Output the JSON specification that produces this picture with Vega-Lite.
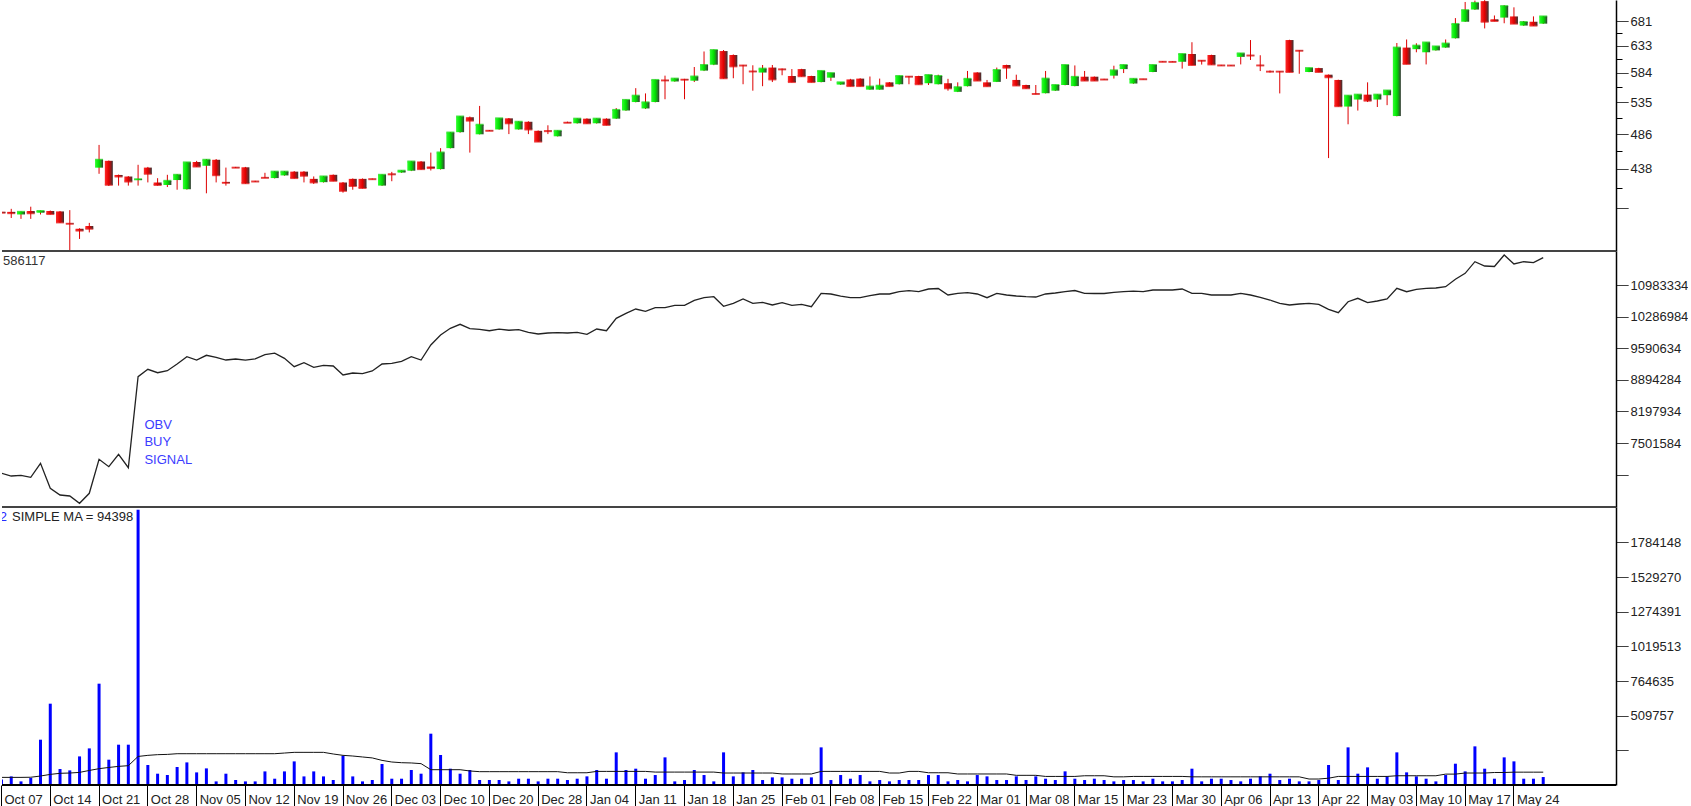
{
"$schema": "https://vega.github.io/schema/vega-lite/v6.json",
"padding": 0,
"background": "white",
"spacing": 0,
"bounds": "flush",
"config": {"view": {"stroke": null}, "font": "Liberation Sans", "text": {"font": "Liberation Sans"}},
"datasets": {"k": [
{"d":"2021-10-07","o":385,"h":388,"l":381,"c":384,"v":40000,"b":6833900,"m":56000},
{"d":"2021-10-08","o":385,"h":388.5,"l":378,"c":383.5,"v":63200,"b":6774400,"m":56000},
{"d":"2021-10-11","o":382,"h":385.5,"l":377,"c":385,"v":26500,"b":6789800,"m":56000},
{"d":"2021-10-12","o":386,"h":391,"l":377,"c":383.5,"v":51500,"b":6745800,"m":57000},
{"d":"2021-10-13","o":384,"h":386.5,"l":382,"c":386,"v":333100,"b":7054300,"m":66000},
{"d":"2021-10-14","o":386,"h":386.5,"l":382,"c":382.5,"v":597900,"b":6503400,"m":78000},
{"d":"2021-10-15","o":385.5,"h":386,"l":372.5,"c":373,"v":117700,"b":6355700,"m":86000},
{"d":"2021-10-18","o":372,"h":387,"l":340,"c":371.5,"v":107400,"b":6333700,"m":88000},
{"d":"2021-10-19","o":366,"h":366.5,"l":355,"c":364,"v":210300,"b":6172800,"m":92700},
{"d":"2021-10-20","o":369,"h":372.5,"l":362,"c":366,"v":269200,"b":6393200,"m":107000},
{"d":"2021-10-21","o":439.5,"h":470.5,"l":431.5,"c":450,"v":745000,"b":7142400,"m":120000},
{"d":"2021-10-22","o":448.6,"h":449,"l":416,"c":417.5,"v":186100,"b":6979400,"m":129000},
{"d":"2021-10-25","o":430,"h":430.5,"l":416.5,"c":428,"v":296400,"b":7252600,"m":137000},
{"d":"2021-10-26","o":428,"h":428.5,"l":416.5,"c":421.6,"v":296400,"b":6957300,"m":142000},
{"d":"2021-10-27","o":423.5,"h":443.3,"l":416.5,"c":424.5,"v":2024600,"b":8962600,"m":210000},
{"d":"2021-10-28","o":439.6,"h":440.5,"l":420.5,"c":431.5,"v":147100,"b":9125700,"m":218000},
{"d":"2021-10-29","o":420.4,"h":425.9,"l":416.5,"c":417.3,"v":83100,"b":9050700,"m":223000},
{"d":"2021-11-02","o":417.3,"h":430.2,"l":414.7,"c":422.5,"v":73500,"b":9094800,"m":225000},
{"d":"2021-11-03","o":423.5,"h":431,"l":411.4,"c":430.2,"v":132400,"b":9242500,"m":230000},
{"d":"2021-11-04","o":412,"h":447,"l":411.5,"c":446.5,"v":166200,"b":9403300,"m":230000},
{"d":"2021-11-05","o":447,"h":448.5,"l":440.5,"c":441,"v":92700,"b":9330600,"m":230000},
{"d":"2021-11-08","o":442,"h":451,"l":407,"c":450,"v":122100,"b":9434200,"m":230000},
{"d":"2021-11-09","o":450,"h":451,"l":420.5,"c":429.7,"v":26500,"b":9390100,"m":230000},
{"d":"2021-11-10","o":421,"h":439.6,"l":416.5,"c":420,"v":83100,"b":9330600,"m":230000},
{"d":"2021-11-11","o":440,"h":440.5,"l":439,"c":439.5,"v":36800,"b":9352600,"m":230000},
{"d":"2021-11-12","o":440,"h":440.5,"l":419,"c":419.5,"v":26500,"b":9330000,"m":230000},
{"d":"2021-11-15","o":422,"h":422.5,"l":421,"c":421.6,"v":26500,"b":9356000,"m":230000},
{"d":"2021-11-16","o":426.8,"h":432.8,"l":426,"c":426.3,"v":100000,"b":9447400,"m":230000},
{"d":"2021-11-17","o":426,"h":435,"l":425.5,"c":434.3,"v":46300,"b":9480000,"m":230000},
{"d":"2021-11-18","o":429.4,"h":435,"l":429,"c":434.3,"v":100000,"b":9368100,"m":235000},
{"d":"2021-11-19","o":434.3,"h":435,"l":425.5,"c":426,"v":173600,"b":9183000,"m":240000},
{"d":"2021-11-22","o":434.3,"h":435,"l":420.5,"c":429,"v":63200,"b":9271100,"m":240000},
{"d":"2021-11-23","o":425,"h":428.1,"l":418.6,"c":420.5,"v":100000,"b":9169700,"m":240000},
{"d":"2021-11-24","o":420.8,"h":428.6,"l":420.3,"c":428.1,"v":63200,"b":9213800,"m":240000},
{"d":"2021-11-25","o":430.2,"h":430.6,"l":422,"c":422.5,"v":36800,"b":9198400,"m":228000},
{"d":"2021-11-26","o":420.4,"h":421,"l":407.8,"c":410,"v":215500,"b":9000100,"m":218000},
{"d":"2021-11-29","o":425,"h":425.5,"l":411.4,"c":416,"v":63200,"b":9044100,"m":213000},
{"d":"2021-11-30","o":425,"h":425.5,"l":413,"c":413.5,"v":26500,"b":9030000,"m":206000},
{"d":"2021-12-01","o":425,"h":425.4,"l":424.3,"c":424.6,"v":36800,"b":9088200,"m":199000},
{"d":"2021-12-02","o":416.5,"h":430.6,"l":416,"c":430.2,"v":154400,"b":9242500,"m":181000},
{"d":"2021-12-03","o":431.5,"h":434,"l":422,"c":430.8,"v":46300,"b":9257900,"m":169000},
{"d":"2021-12-06","o":433.1,"h":436,"l":432.7,"c":435.5,"v":46300,"b":9302000,"m":164000},
{"d":"2021-12-07","o":435.5,"h":448.2,"l":435,"c":447.7,"v":110300,"b":9403300,"m":162000},
{"d":"2021-12-08","o":447.7,"h":448.2,"l":437,"c":437.6,"v":83100,"b":9330600,"m":157000},
{"d":"2021-12-09","o":441,"h":459.8,"l":435.8,"c":439,"v":377300,"b":9661100,"m":112500},
{"d":"2021-12-10","o":437.6,"h":466,"l":437,"c":460,"v":220600,"b":9881500,"m":112500},
{"d":"2021-12-13","o":466,"h":489,"l":465.5,"c":488.3,"v":119900,"b":10029100,"m":112500},
{"d":"2021-12-14","o":488.8,"h":513,"l":488,"c":512.3,"v":83100,"b":10117300,"m":112500},
{"d":"2021-12-15","o":511.2,"h":512.3,"l":459.8,"c":506,"v":110300,"b":10020300,"m":103000},
{"d":"2021-12-17","o":485.7,"h":528.8,"l":485.5,"c":499.8,"v":36800,"b":10007100,"m":98000},
{"d":"2021-12-20","o":491.3,"h":492,"l":490.5,"c":490.8,"v":36800,"b":9975000,"m":98000},
{"d":"2021-12-21","o":492.8,"h":510,"l":492.5,"c":509.5,"v":36800,"b":10012000,"m":98000},
{"d":"2021-12-22","o":509.5,"h":510,"l":486,"c":502,"v":26500,"b":9986000,"m":98000},
{"d":"2021-12-23","o":492.8,"h":505,"l":492.5,"c":504.3,"v":46300,"b":10000000,"m":98000},
{"d":"2021-12-24","o":504.3,"h":505,"l":486,"c":492.8,"v":46300,"b":9941000,"m":98000},
{"d":"2021-12-28","o":490.8,"h":491.3,"l":474.8,"c":475.2,"v":26500,"b":9903500,"m":98000},
{"d":"2021-12-29","o":491,"h":499,"l":486,"c":490.3,"v":46300,"b":9925600,"m":98000},
{"d":"2021-12-30","o":482.8,"h":491.3,"l":482.5,"c":490.8,"v":46300,"b":9932200,"m":98000},
{"d":"2021-12-31","o":503.5,"h":504.5,"l":502.5,"c":502.8,"v":36500,"b":9925600,"m":90000},
{"d":"2022-01-03","o":502,"h":509.5,"l":501.5,"c":509,"v":46300,"b":9941000,"m":90000},
{"d":"2022-01-04","o":509,"h":509.5,"l":501.5,"c":502,"v":63500,"b":9896900,"m":90000},
{"d":"2022-01-05","o":502,"h":509.5,"l":501.5,"c":509,"v":110100,"b":10013700,"m":100000},
{"d":"2022-01-06","o":509,"h":509.5,"l":499,"c":499.5,"v":46300,"b":9976300,"m":100000},
{"d":"2022-01-07","o":509,"h":525.4,"l":508.5,"c":522.5,"v":240000,"b":10249500,"m":100000},
{"d":"2022-01-10","o":521.6,"h":539,"l":521,"c":538.4,"v":110100,"b":10359700,"m":100000},
{"d":"2022-01-11","o":535,"h":557.7,"l":534.5,"c":545.3,"v":119900,"b":10454400,"m":100000},
{"d":"2022-01-12","o":524.8,"h":549,"l":524,"c":534.5,"v":46300,"b":10403800,"m":100000},
{"d":"2022-01-13","o":535,"h":572,"l":534.5,"c":571.6,"v":73300,"b":10483100,"m":95000},
{"d":"2022-01-14","o":571.5,"h":579,"l":539.5,"c":570.8,"v":203200,"b":10483100,"m":95000},
{"d":"2022-01-17","o":569,"h":574.5,"l":568.5,"c":573.9,"v":26700,"b":10536000,"m":95000},
{"d":"2022-01-18","o":572.9,"h":573.5,"l":539.5,"c":572,"v":36500,"b":10536000,"m":95000},
{"d":"2022-01-19","o":570.3,"h":594.2,"l":568,"c":577.5,"v":110100,"b":10646200,"m":95000},
{"d":"2022-01-20","o":587.8,"h":622.5,"l":587,"c":597.8,"v":73300,"b":10703400,"m":95000},
{"d":"2022-01-21","o":598.3,"h":626,"l":597.5,"c":625.2,"v":26700,"b":10725500,"m":95000},
{"d":"2022-01-24","o":623.3,"h":625.2,"l":574,"c":574.5,"v":240000,"b":10513900,"m":88000},
{"d":"2022-01-25","o":616,"h":617,"l":574.5,"c":595.3,"v":63500,"b":10580000,"m":88000},
{"d":"2022-01-26","o":597.3,"h":598,"l":564.3,"c":596.8,"v":92900,"b":10674800,"m":88000},
{"d":"2022-01-27","o":587,"h":597.3,"l":553.5,"c":586.3,"v":110100,"b":10580000,"m":88000},
{"d":"2022-01-28","o":584.4,"h":597.8,"l":561,"c":591.3,"v":36500,"b":10602100,"m":88000},
{"d":"2022-01-31","o":593.2,"h":597.8,"l":568,"c":572.5,"v":56100,"b":10542600,"m":88000},
{"d":"2022-02-01","o":590.8,"h":591.5,"l":579.7,"c":590,"v":56100,"b":10593300,"m":81000},
{"d":"2022-02-02","o":578.4,"h":590.5,"l":567.5,"c":568,"v":46300,"b":10536000,"m":81000},
{"d":"2022-02-03","o":590.5,"h":591,"l":577.5,"c":578,"v":46300,"b":10558000,"m":81000},
{"d":"2022-02-04","o":578.4,"h":578.8,"l":567.5,"c":568,"v":56100,"b":10505100,"m":81000},
{"d":"2022-02-07","o":568,"h":587.7,"l":567.5,"c":587.2,"v":276700,"b":10800400,"m":100000},
{"d":"2022-02-08","o":575.5,"h":584,"l":570,"c":583.5,"v":36500,"b":10785000,"m":100000},
{"d":"2022-02-09","o":563.7,"h":568,"l":563.3,"c":567.5,"v":73300,"b":10740000,"m":100000},
{"d":"2022-02-10","o":572.5,"h":573.5,"l":560.8,"c":561.2,"v":46300,"b":10703400,"m":100000},
{"d":"2022-02-11","o":573.9,"h":574.5,"l":560.8,"c":561.2,"v":73300,"b":10703400,"m":100000},
{"d":"2022-02-14","o":555.2,"h":577.5,"l":555,"c":560.4,"v":26700,"b":10747500,"m":100000},
{"d":"2022-02-15","o":555.2,"h":573.9,"l":555,"c":561.8,"v":36500,"b":10785000,"m":100000},
{"d":"2022-02-16","o":567.5,"h":568,"l":560.8,"c":561.2,"v":26700,"b":10785000,"m":88000},
{"d":"2022-02-17","o":564.3,"h":579,"l":563.8,"c":578.4,"v":36500,"b":10835700,"m":88000},
{"d":"2022-02-18","o":577.8,"h":578.3,"l":564.3,"c":577.2,"v":36500,"b":10857700,"m":100000},
{"d":"2022-02-21","o":578.4,"h":578.8,"l":564,"c":564.3,"v":36500,"b":10835700,"m":100000},
{"d":"2022-02-22","o":566,"h":580.5,"l":563,"c":580.1,"v":73300,"b":10895200,"m":90000},
{"d":"2022-02-23","o":564.3,"h":580.7,"l":564,"c":578.4,"v":73300,"b":10906300,"m":90000},
{"d":"2022-02-24","o":566,"h":573.5,"l":553.5,"c":557.5,"v":26700,"b":10762900,"m":90000},
{"d":"2022-02-25","o":551.6,"h":567.5,"l":551.2,"c":559.3,"v":36500,"b":10800400,"m":81000},
{"d":"2022-02-28","o":561,"h":587.2,"l":560.5,"c":573.5,"v":26700,"b":10813600,"m":81000},
{"d":"2022-03-01","o":584.6,"h":585,"l":570,"c":570.5,"v":73300,"b":10785000,"m":81000},
{"d":"2022-03-02","o":567.5,"h":571.6,"l":560.5,"c":561,"v":63500,"b":10703400,"m":81000},
{"d":"2022-03-03","o":568.3,"h":593.2,"l":568,"c":588.9,"v":36500,"b":10800400,"m":81000},
{"d":"2022-03-04","o":597.8,"h":598.3,"l":573.5,"c":593,"v":36500,"b":10762900,"m":81000},
{"d":"2022-03-07","o":571.6,"h":580.7,"l":561.8,"c":562.2,"v":63500,"b":10740900,"m":71000},
{"d":"2022-03-08","o":563,"h":563.5,"l":557,"c":557.5,"v":36500,"b":10725500,"m":71000},
{"d":"2022-03-09","o":548.5,"h":563,"l":547.5,"c":548,"v":63500,"b":10718900,"m":71000},
{"d":"2022-03-10","o":549.3,"h":587.2,"l":549,"c":573.9,"v":46300,"b":10785000,"m":63000},
{"d":"2022-03-11","o":553.5,"h":563.5,"l":553,"c":563,"v":36500,"b":10807000,"m":63000},
{"d":"2022-03-14","o":563,"h":598.3,"l":562.5,"c":597.8,"v":100300,"b":10835700,"m":63000},
{"d":"2022-03-15","o":561.2,"h":597,"l":560.8,"c":576.9,"v":46300,"b":10862100,"m":63000},
{"d":"2022-03-16","o":577.2,"h":587.2,"l":570,"c":570.5,"v":36500,"b":10800400,"m":68000},
{"d":"2022-03-17","o":577.2,"h":577.5,"l":570,"c":570.5,"v":46300,"b":10796000,"m":68000},
{"d":"2022-03-18","o":573,"h":573.5,"l":572,"c":572.3,"v":36500,"b":10796000,"m":68000},
{"d":"2022-03-22","o":579,"h":596.5,"l":574,"c":588.3,"v":26700,"b":10822400,"m":60000},
{"d":"2022-03-23","o":590.5,"h":598.3,"l":583.5,"c":597.8,"v":36500,"b":10835700,"m":60000},
{"d":"2022-03-24","o":565.5,"h":574,"l":565,"c":573.5,"v":36500,"b":10846700,"m":63000},
{"d":"2022-03-25","o":573.3,"h":573.5,"l":572.5,"c":572.8,"v":26700,"b":10835700,"m":63000},
{"d":"2022-03-28","o":585.4,"h":598.3,"l":585,"c":597.8,"v":46300,"b":10873100,"m":63000},
{"d":"2022-03-29","o":604,"h":604.5,"l":603,"c":603.5,"v":26700,"b":10873100,"m":63000},
{"d":"2022-03-30","o":603.8,"h":604.3,"l":603,"c":603.3,"v":26700,"b":10873100,"m":63000},
{"d":"2022-03-31","o":603.6,"h":618.3,"l":591.3,"c":617.8,"v":36500,"b":10895200,"m":63000},
{"d":"2022-04-01","o":617.8,"h":640,"l":597.3,"c":597.8,"v":119900,"b":10800400,"m":60000},
{"d":"2022-04-04","o":606,"h":606.5,"l":598.5,"c":605.4,"v":26700,"b":10800400,"m":60000},
{"d":"2022-04-05","o":616,"h":616.5,"l":598.3,"c":598.8,"v":46300,"b":10762900,"m":60000},
{"d":"2022-04-06","o":597.5,"h":598,"l":596.5,"c":597,"v":46300,"b":10762900,"m":60000},
{"d":"2022-04-07","o":597.3,"h":597.8,"l":596.3,"c":596.8,"v":36500,"b":10762900,"m":60000},
{"d":"2022-04-08","o":612.5,"h":619.5,"l":598.8,"c":618.9,"v":26700,"b":10800400,"m":60000},
{"d":"2022-04-11","o":615.5,"h":644.2,"l":606.8,"c":615,"v":46300,"b":10762900,"m":60000},
{"d":"2022-04-12","o":597.5,"h":615.5,"l":587,"c":597,"v":63500,"b":10712300,"m":60000},
{"d":"2022-04-13","o":586.6,"h":588,"l":584.4,"c":586,"v":83100,"b":10652800,"m":60000},
{"d":"2022-04-14","o":586.6,"h":587,"l":549,"c":586,"v":36500,"b":10580000,"m":60000},
{"d":"2022-04-19","o":644.2,"h":644.7,"l":585,"c":585.4,"v":46300,"b":10542600,"m":60000},
{"d":"2022-04-20","o":624.5,"h":625,"l":582.3,"c":623.8,"v":26700,"b":10564600,"m":60000},
{"d":"2022-04-21","o":585.4,"h":592.8,"l":585,"c":592.3,"v":26700,"b":10580000,"m":44000},
{"d":"2022-04-22","o":592.3,"h":592.8,"l":585,"c":585.4,"v":36500,"b":10558000,"m":44000},
{"d":"2022-04-25","o":580.7,"h":581,"l":452.3,"c":576.2,"v":146900,"b":10447800,"m":50000},
{"d":"2022-04-26","o":571.6,"h":572,"l":528,"c":528.4,"v":36500,"b":10372900,"m":63000},
{"d":"2022-04-28","o":527.8,"h":545.8,"l":500.5,"c":545.3,"v":276700,"b":10615300,"m":63000},
{"d":"2022-04-29","o":539,"h":547.5,"l":521.5,"c":547,"v":83100,"b":10690200,"m":63000},
{"d":"2022-05-03","o":547,"h":567.5,"l":535,"c":537.2,"v":129700,"b":10593300,"m":63000},
{"d":"2022-05-04","o":539,"h":547.5,"l":527.1,"c":547,"v":46300,"b":10630700,"m":63000},
{"d":"2022-05-05","o":546,"h":554.3,"l":530,"c":553.8,"v":63500,"b":10674800,"m":63000},
{"d":"2022-05-06","o":513,"h":638.5,"l":512.5,"c":629.8,"v":240000,"b":10910600,"m":68000},
{"d":"2022-05-09","o":629.8,"h":645.3,"l":599.2,"c":599.7,"v":92900,"b":10835700,"m":68000},
{"d":"2022-05-10","o":626.8,"h":638,"l":621,"c":633.5,"v":63500,"b":10888500,"m":68000},
{"d":"2022-05-11","o":621,"h":640,"l":598.8,"c":639.5,"v":46300,"b":10910600,"m":68000},
{"d":"2022-05-12","o":624.5,"h":632.5,"l":624,"c":632,"v":26700,"b":10917200,"m":68000},
{"d":"2022-05-13","o":629.8,"h":645.3,"l":629.3,"c":637.5,"v":73300,"b":10945800,"m":80000},
{"d":"2022-05-16","o":647.6,"h":688,"l":647,"c":676,"v":156600,"b":11108900,"m":80000},
{"d":"2022-05-17","o":680.5,"h":722,"l":680,"c":704.6,"v":100300,"b":11241100,"m":88000},
{"d":"2022-05-18","o":705.8,"h":725,"l":705,"c":720,"v":284100,"b":11496700,"m":88000},
{"d":"2022-05-19","o":723.8,"h":726,"l":667,"c":680.5,"v":119900,"b":11402000,"m":88000},
{"d":"2022-05-20","o":685.5,"h":693.4,"l":681.5,"c":682,"v":46300,"b":11391000,"m":92000},
{"d":"2022-05-23","o":689,"h":715,"l":677.4,"c":713.2,"v":203200,"b":11644400,"m":92000},
{"d":"2022-05-24","o":691.4,"h":710.5,"l":676,"c":676.6,"v":173800,"b":11446100,"m":94398},
{"d":"2022-05-25","o":672.7,"h":682,"l":672,"c":680,"v":46300,"b":11496700,"m":94398},
{"d":"2022-05-26","o":680.5,"h":691.5,"l":672,"c":672.7,"v":46300,"b":11474700,"m":94398},
{"d":"2022-05-27","o":676.6,"h":692,"l":676,"c":691.4,"v":58600,"b":11586117,"m":94398}
]},
"data": {"name": "k"},
"vconcat": [
{
"width": 1614, "height": 251,
"layer": [
{"mark": {"type": "rule", "color": "#dd0000", "strokeWidth": 1, "clip": true},
 "encoding": {
  "x": {"field": "d", "type": "ordinal", "scale": {"type": "band", "range": [-5.4, 1546.1], "paddingInner": 0, "paddingOuter": 0}, "axis": null},
  "y": {"field": "l", "type": "quantitative", "scale": {"type": "log", "domain": [342.4, 726.3], "nice": false, "zero": false},
   "axis": {"orient": "right", "title": null, "grid": false,
    "values": [389, 413.5, 438, 462, 486, 510.5, 535, 559.5, 584, 608.5, 633, 657, 681],
    "labelExpr": "indexof([438,486,535,584,633,681], datum.value) >= 0 ? '' + datum.value : ''",
    "tickSize": 12, "tickDash": {"condition": {"test": "indexof([413.5,462,510.5,559.5,608.5,657], datum.value) >= 0", "value": [6, 20]}, "value": [1, 0]},
    "domainColor": "#000", "domainWidth": 1.5, "tickColor": "#000", "tickWidth": 1,
    "labelFontSize": 13, "labelColor": "#222", "labelPadding": 2, "labelOverlap": false, "labelBound": false, "labelFlush": false}},
  "y2": {"field": "h"}}},
{"transform": [{"filter": "datum.c >= datum.o"}],
 "mark": {"type": "tick", "color": "#00d000", "size": 8, "thickness": 2, "clip": true},
 "encoding": {"x": {"field": "d", "type": "ordinal"}, "y": {"field": "c", "type": "quantitative"}}},
{"transform": [{"filter": "datum.c < datum.o"}],
 "mark": {"type": "tick", "color": "#e00000", "size": 8, "thickness": 2, "clip": true},
 "encoding": {"x": {"field": "d", "type": "ordinal"}, "y": {"field": "c", "type": "quantitative"}}},
{"transform": [{"filter": "datum.c >= datum.o"}],
 "mark": {"type": "bar", "size": 8, "clip": true,
  "fill": {"gradient": "linear", "x1": 0, "y1": 0, "x2": 1, "y2": 0, "stops": [{"offset": 0, "color": "#30ff30"}, {"offset": 0.5, "color": "#00e000"}, {"offset": 0.78, "color": "#1f8a1f"}, {"offset": 1, "color": "#333333"}]}},
 "encoding": {"x": {"field": "d", "type": "ordinal"}, "y": {"field": "o", "type": "quantitative"}, "y2": {"field": "c"}}},
{"transform": [{"filter": "datum.c < datum.o"}],
 "mark": {"type": "bar", "size": 8, "clip": true,
  "fill": {"gradient": "linear", "x1": 0, "y1": 0, "x2": 1, "y2": 0, "stops": [{"offset": 0, "color": "#ff2a2a"}, {"offset": 0.5, "color": "#e00000"}, {"offset": 0.78, "color": "#8a1f1f"}, {"offset": 1, "color": "#333333"}]}},
 "encoding": {"x": {"field": "d", "type": "ordinal"}, "y": {"field": "o", "type": "quantitative"}, "y2": {"field": "c"}}},
{"mark": {"type": "rule", "color": "#444444", "strokeWidth": 1.5},
 "encoding": {"y": {"datum": 342.4, "type": "quantitative"}}}
]
},
{
"width": 1614, "height": 256,
"layer": [
{"mark": {"type": "line", "color": "#222222", "strokeWidth": 1.3, "clip": true},
 "encoding": {
  "x": {"field": "d", "type": "ordinal", "scale": {"type": "band", "range": [-5.4, 1546.1], "paddingInner": 0, "paddingOuter": 0}, "axis": null},
  "y": {"field": "b", "type": "quantitative", "scale": {"domain": [6091342, 11732558], "nice": false, "zero": false},
   "axis": {"orient": "right", "title": null, "grid": false,
    "values": [6805234, 7153409, 7501584, 7849759, 8197934, 8546109, 8894284, 9242459, 9590634, 9938809, 10286984, 10635159, 10983334],
    "labelExpr": "indexof([7501584,8197934,8894284,9590634,10286984,10983334], datum.value) >= 0 ? '' + datum.value : ''",
    "tickSize": 12, "tickDash": {"condition": {"test": "indexof([7153409,7849759,8546109,9242459,9938809,10635159], datum.value) >= 0", "value": [6, 20]}, "value": [1, 0]},
    "domainColor": "#000", "domainWidth": 1.5, "tickColor": "#000", "tickWidth": 1,
    "labelFontSize": 13, "labelColor": "#222", "labelPadding": 2, "labelOverlap": false, "labelBound": false, "labelFlush": false}}}},
{"data": {"values": [{"d": "2021-10-14", "y": 11523200, "t": "586117"}]},
 "mark": {"type": "text", "align": "right", "baseline": "middle", "dx": -4.8, "fontSize": 13, "color": "#333333", "clip": true},
 "encoding": {"x": {"field": "d", "type": "ordinal"}, "y": {"field": "y", "type": "quantitative"}, "text": {"field": "t"}}},
{"data": {"values": [{"d": "2021-10-28", "y": 7810150, "t": "OBV\nBUY\nSIGNAL"}]},
 "mark": {"type": "text", "align": "left", "baseline": "alphabetic", "dx": -3.4, "fontSize": 13, "lineBreak": "\n", "lineHeight": 17.3, "color": "#3c3cff"},
 "encoding": {"x": {"field": "d", "type": "ordinal"}, "y": {"field": "y", "type": "quantitative"}, "text": {"field": "t"}}},
{"mark": {"type": "rule", "color": "#444444", "strokeWidth": 1.5},
 "encoding": {"y": {"datum": 6091342, "type": "quantitative"}}}
]
},
{
"width": 1614, "height": 278,
"layer": [
{"mark": {"type": "bar", "color": "#0000ff", "size": 3, "clip": true},
 "encoding": {
  "x": {"field": "d", "type": "ordinal", "scale": {"type": "band", "range": [-5.4, 1546.1], "paddingInner": 0, "paddingOuter": 0},
   "axis": {"title": null, "domain": false, "ticks": true, "tickSize": 22, "tickColor": "#000", "tickWidth": 1, "bandPosition": 0.5,
    "values": ["2021-10-07","2021-10-14","2021-10-21","2021-10-28","2021-11-05","2021-11-12","2021-11-19","2021-11-26","2021-12-03","2021-12-10","2021-12-20","2021-12-28","2022-01-04","2022-01-11","2022-01-18","2022-01-25","2022-02-01","2022-02-08","2022-02-15","2022-02-22","2022-03-01","2022-03-08","2022-03-15","2022-03-23","2022-03-30","2022-04-06","2022-04-13","2022-04-22","2022-05-03","2022-05-10","2022-05-17","2022-05-24"],
    "labelExpr": "utcFormat(toDate(datum.value), '%b %d')",
    "labelAlign": "left", "labelBaseline": "top", "labelPadding": -14, "labelOffset": 3, "labelAngle": 0,
    "labelFontSize": 13, "labelColor": "#222", "labelOverlap": false, "labelBound": false, "labelFlush": false}},
  "y": {"field": "v", "type": "quantitative", "scale": {"domain": [0, 2044000], "nice": false, "zero": false},
   "axis": {"orient": "right", "title": null, "grid": false,
    "values": [254879, 382318, 509757, 637196, 764635, 892074, 1019513, 1146952, 1274391, 1401831, 1529270, 1656709, 1784148],
    "labelExpr": "indexof([509757,764635,1019513,1274391,1529270,1784148], datum.value) >= 0 ? '' + datum.value : ''",
    "tickSize": 12, "tickDash": {"condition": {"test": "indexof([382318,637196,892074,1146952,1401831,1656709], datum.value) >= 0", "value": [6, 20]}, "value": [1, 0]},
    "domainColor": "#000", "domainWidth": 1.5, "tickColor": "#000", "tickWidth": 1,
    "labelFontSize": 13, "labelColor": "#222", "labelPadding": 2, "labelOverlap": false, "labelBound": false, "labelFlush": false}}}},
{"mark": {"type": "line", "color": "#111111", "strokeWidth": 1, "clip": true},
 "encoding": {"x": {"field": "d", "type": "ordinal"}, "y": {"field": "m", "type": "quantitative"}}},
{"data": {"values": [{"d": "2021-10-07", "y": 1943100, "t": "SIMPLE MA = 94398"}]},
 "mark": {"type": "text", "align": "left", "baseline": "alphabetic", "dx": 10.6, "fontSize": 13, "color": "#222222", "clip": true},
 "encoding": {"x": {"field": "d", "type": "ordinal"}, "y": {"field": "y", "type": "quantitative"}, "text": {"field": "t"}}},
{"data": {"values": [{"d": "2021-10-07", "y": 1943100, "t": "2"}]},
 "mark": {"type": "text", "align": "right", "baseline": "alphabetic", "dx": 5.5, "fontSize": 13, "color": "#2a2aff", "clip": true},
 "encoding": {"x": {"field": "d", "type": "ordinal"}, "y": {"field": "y", "type": "quantitative"}, "text": {"field": "t"}}},
{"mark": {"type": "rule", "color": "#000000", "strokeWidth": 2},
 "encoding": {"y": {"datum": 0, "type": "quantitative"}}}
]
}
]
}
